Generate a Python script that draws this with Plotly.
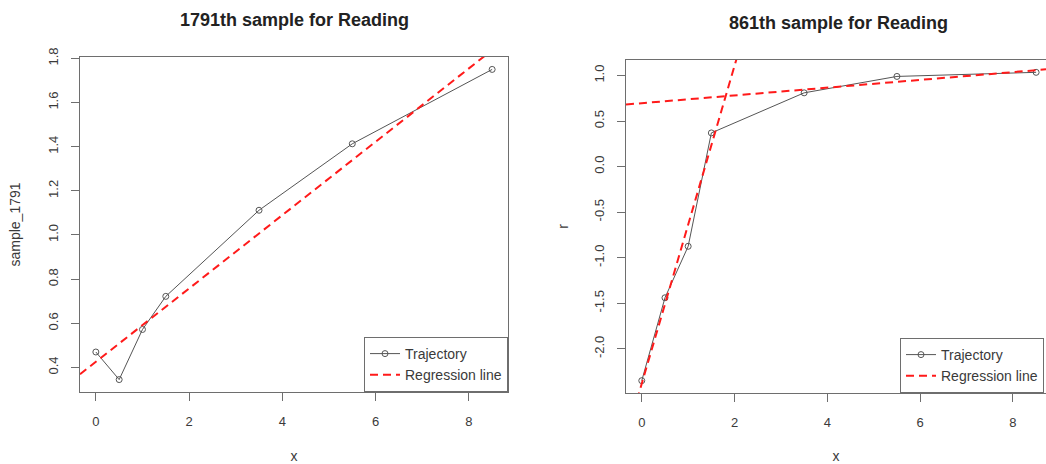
import numpy as np
import plotly.graph_objects as go

# Time points shared by both samples
x_vals = [0, 0.5, 1, 1.5, 3.5, 5.5, 8.5]

# Sample 1791 trajectory
sample_1791 = [0.47, 0.345, 0.572, 0.722, 1.112, 1.413, 1.75]

# Sample 861 trajectory
sample_861 = [-2.35, -1.44, -0.875, 0.37, 0.81, 0.99, 1.035]

titles = ["1791th sample for Reading", "861th sample for Reading"]
y_titles = ["sample_1791", "r"]
legend_labels = ["Trajectory", "Regression line"]

W, H = 1046, 464
FONT = "Liberation Sans, Arial, sans-serif"
TXT = "#3a3a3a"
BOX = "#6e6e6e"
TRAJ = "#555555"
RED = "#ff1a1a"
DASH = "8px,5px"


def r_range(vals):
    lo, hi = min(vals), max(vals)
    pad = 0.04 * (hi - lo)
    return [lo - pad, hi + pad]


def fit(xs, ys):
    slope, intercept = np.polyfit(xs, ys, 1)
    return slope, intercept


x_rng_left = r_range(x_vals)
y_rng_left = r_range(sample_1791)
y_rng_right = r_range(sample_861)
# right panel is cut at the window edge
x_rng_right = [x_rng_left[0], 8.713]

fig = go.Figure()

# ---- left panel ----
fig.add_trace(go.Scatter(
    x=x_vals, y=sample_1791, mode="lines+markers", name=legend_labels[0],
    line=dict(color=TRAJ, width=1),
    marker=dict(symbol="circle-open", size=6, color=TRAJ, line=dict(width=1)),
    xaxis="x", yaxis="y", legend="legend"))

s, b = fit(x_vals, sample_1791)
xl = np.array(x_rng_left)
fig.add_trace(go.Scatter(
    x=xl, y=b + s * xl, mode="lines", name=legend_labels[1],
    line=dict(color=RED, width=2, dash=DASH),
    xaxis="x", yaxis="y", legend="legend"))

# ---- right panel ----
fig.add_trace(go.Scatter(
    x=x_vals, y=sample_861, mode="lines+markers", name=legend_labels[0],
    line=dict(color=TRAJ, width=1),
    marker=dict(symbol="circle-open", size=6, color=TRAJ, line=dict(width=1)),
    xaxis="x2", yaxis="y2", legend="legend2"))

xr = np.array([x_rng_right[0], x_rng_right[1]])
s1, b1 = fit(x_vals[:4], sample_861[:4])
s2, b2 = fit(x_vals[-3:], sample_861[-3:])
fig.add_trace(go.Scatter(
    x=xr, y=b1 + s1 * xr, mode="lines", name=legend_labels[1],
    line=dict(color=RED, width=2, dash=DASH),
    xaxis="x2", yaxis="y2", legend="legend2"))
fig.add_trace(go.Scatter(
    x=xr, y=b2 + s2 * xr, mode="lines", name=legend_labels[1], showlegend=False,
    line=dict(color=RED, width=2, dash=DASH),
    xaxis="x2", yaxis="y2", legend="legend2"))


def px_x(p):
    return p / W


def px_y(p):
    return 1 - p / H


tick_font = dict(family=FONT, size=13, color=TXT)
title_font = dict(family=FONT, size=14, color=TXT)

common_x = dict(
    showgrid=False, zeroline=False, showline=True, linecolor=BOX, linewidth=1,
    ticks="outside", ticklen=8, tickcolor=BOX, tickwidth=1,
    tickfont=tick_font, tickmode="array", tickvals=[0, 2, 4, 6, 8],
    ticklabelstandoff=9, title=dict(text="x", font=title_font, standoff=24),
)
common_y = dict(
    showgrid=False, zeroline=False, showline=True, linecolor=BOX, linewidth=1,
    ticks="outside", ticklen=8, tickcolor=BOX, tickwidth=1,
    tickfont=tick_font, tickangle=-90, ticklabelstandoff=8,
)

fig.update_layout(
    width=W, height=H,
    margin=dict(l=0, r=0, t=0, b=0, autoexpand=False),
    paper_bgcolor="white", plot_bgcolor="white",
    font=dict(family=FONT, color=TXT),
    xaxis=dict(common_x, domain=[px_x(80), px_x(508)], range=x_rng_left,
               anchor="y", mirror=True),
    yaxis=dict(common_y, domain=[px_y(392), px_y(57)], range=y_rng_left,
               anchor="x", mirror=True,
               tickvals=[0.4, 0.6, 0.8, 1.0, 1.2, 1.4, 1.6, 1.8],
               ticktext=["0.4", "0.6", "0.8", "1.0", "1.2", "1.4", "1.6", "1.8"],
               title=dict(text=y_titles[0], font=title_font, standoff=21)),
    xaxis2=dict(common_x, domain=[px_x(626), 1.0], range=x_rng_right,
                anchor="y2", mirror=True),
    yaxis2=dict(common_y, domain=[px_y(393), px_y(60)], range=y_rng_right,
                anchor="x2", mirror=False,
                tickvals=[-2.0, -1.5, -1.0, -0.5, 0.0, 0.5, 1.0],
                ticktext=["-2.0", "-1.5", "-1.0", "-0.5", "0.0", "0.5", "1.0"],
                title=dict(text=y_titles[1], font=title_font, standoff=19)),
    legend=dict(x=px_x(508), y=px_y(392), xanchor="right", yanchor="bottom",
                bgcolor="white", bordercolor=BOX, borderwidth=1,
                font=dict(family=FONT, size=14, color=TXT),
                tracegroupgap=0, itemwidth=30),
    legend2=dict(x=px_x(900), y=px_y(393), xanchor="left", yanchor="bottom",
                 bgcolor="white", bordercolor=BOX, borderwidth=1,
                 font=dict(family=FONT, size=14, color=TXT),
                 tracegroupgap=0, itemwidth=30),
    annotations=[
        dict(text="<b>%s</b>" % titles[0], xref="x domain", yref="paper",
             x=0.5, y=px_y(20), xanchor="center", yanchor="middle",
             showarrow=False, font=dict(family=FONT, size=18, color="#222222")),
        dict(text="<b>%s</b>" % titles[1], xref="paper", yref="paper",
             x=px_x(838), y=px_y(23), xanchor="center", yanchor="middle",
             showarrow=False, font=dict(family=FONT, size=18, color="#222222")),
    ],
)

fig.write_html("out.html")
